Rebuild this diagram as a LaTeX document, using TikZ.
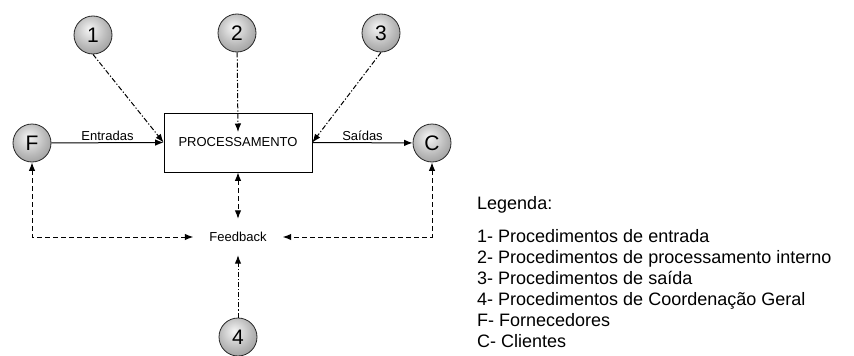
\documentclass[tikz,border=0pt]{standalone}
\usepackage{fontspec}
\setmainfont{Liberation Sans}
\usetikzlibrary{arrows.meta}
% grey sphere look for the actor circles
\pgfdeclareradialshading{sphere}{\pgfpoint{-5bp}{8bp}}{color(0bp)=(black!4); color(22bp)=(black!28); color(60bp)=(black!64); color(80bp)=(black!64)}

\begin{document}
\begin{tikzpicture}[x=1pt,y=-1pt,
  ball/.style={circle, draw=black!85, line width=0.8pt, shading=sphere, minimum size=38pt, inner sep=0pt, font=\fontsize{21}{21}\selectfont},
  procbox/.style={draw, line width=0.8pt, fill=white, minimum width=148pt, minimum height=59pt, inner sep=0pt, font=\fontsize{13}{13}\selectfont},
  lbl/.style={font=\fontsize{13}{13}\selectfont},
  flow/.style={-{Latex[length=8.5pt,width=6.5pt]}, line width=1pt},
  ctrl/.style={-{Latex[length=8.5pt,width=6.5pt]}, line width=1pt, dash pattern=on 5pt off 2pt on 1.2pt off 2pt},
  fback/.style={{Latex[length=8.5pt,width=6.5pt]}-{Latex[length=8.5pt,width=6.5pt]}, line width=1pt, dash pattern=on 5pt off 3pt},
  legend/.style={anchor=base west, inner sep=0pt, font=\fontsize{18}{18}\selectfont}
]
\useasboundingbox (0,0) rectangle (854,356);

% central process
\node[procbox] (box) at (238,142.5) {PROCESSAMENTO};

% actors and procedures
\node[ball] (c1) at (93,35) {1};
\node[ball] (c2) at (237,33) {2};
\node[ball] (c3) at (381,33) {3};
\node[ball] (c4) at (238,337) {4};
\node[ball] (F) at (32,143) {F};
\node[ball] (C) at (432,143) {C};

\node[lbl, inner xsep=16pt, inner ysep=0pt, minimum height=36pt] (fb) at (238,237) {Feedback};

% main flow
\draw[flow] (F) -- node[lbl, above, inner sep=2pt] {Entradas} (box.west);
\draw[flow] (box.east) -- node[lbl, above, inner sep=2pt] {Saídas} (C);

% procedures acting on the process
\draw[ctrl] (c1.south) -- (box.west);
\draw[ctrl] (c2) -- ([yshift=10.5pt]box.center);
\draw[ctrl] (c3.south) -- (box.east);
\draw[ctrl] (c4) -- (fb.south);

% feedback loops
\draw[fback] (box.south) -- (fb.north);
\draw[fback] (F.south) |- (fb.west);
\draw[fback] (C.south) |- (fb.east);

% legend
\node[legend] (lg) at (477,209.5) {Legenda:};
\node[legend] (l1) at (477,242) {1- Procedimentos de entrada};
\node[legend] (l2) at (477,263) {2- Procedimentos de processamento interno};
\node[legend] (l3) at (477,284) {3- Procedimentos de saída};
\node[legend] (l4) at (477,305) {4- Procedimentos de Coordenação Geral};
\node[legend] (l5) at (477,326) {F- Fornecedores};
\node[legend] (l6) at (477,347) {C- Clientes};
\end{tikzpicture}
\end{document}
